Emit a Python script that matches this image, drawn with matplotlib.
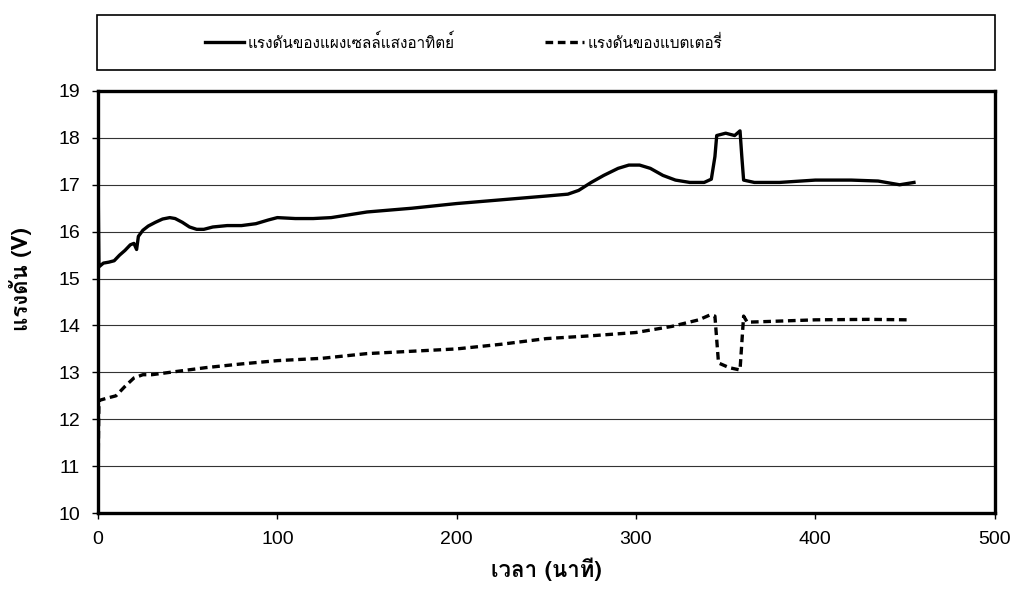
import matplotlib
matplotlib.use('Agg')
import matplotlib.pyplot as plt
from matplotlib import font_manager
from matplotlib.ft2font import FT2Font
from matplotlib.lines import Line2D
from matplotlib.patches import Rectangle


# solar panel voltage (V) vs time (min)
t_panel = [0, 0.5, 3, 6, 9, 12, 15, 18, 20, 21.5, 22.5, 25, 28, 32, 36, 40,
           43, 47, 51, 55, 59, 64, 72, 80, 88, 95, 100, 110, 120, 130, 140,
           150, 175, 200, 225, 250, 262, 268, 275, 282, 290, 296, 302, 308,
           315, 322, 330, 338, 342, 344, 345, 350, 355, 358, 359, 360, 366,
           380, 400, 420, 435, 447, 455]
v_panel = [17.2, 15.25, 15.33, 15.35, 15.38, 15.5, 15.6, 15.72, 15.75, 15.62,
           15.9, 16.03, 16.12, 16.2, 16.27, 16.3, 16.28, 16.2, 16.1, 16.05,
           16.05, 16.1, 16.13, 16.13, 16.17, 16.25, 16.3, 16.28, 16.28, 16.3,
           16.36, 16.42, 16.5, 16.6, 16.68, 16.76, 16.8, 16.88, 17.05, 17.2,
           17.35, 17.42, 17.42, 17.35, 17.2, 17.1, 17.05, 17.05, 17.12, 17.6,
           18.05, 18.1, 18.05, 18.15, 17.6, 17.1, 17.05, 17.05, 17.1, 17.1,
           17.08, 17.0, 17.05]

# battery voltage (V) vs time (min)
t_batt = [0, 0.5, 5, 10, 15, 20, 25, 30, 40, 60, 80, 100, 125, 150, 175,
          200, 225, 250, 275, 300, 320, 335, 341, 344, 346, 352, 358, 360,
          362, 370, 400, 430, 452]
v_batt = [10.8, 12.4, 12.45, 12.5, 12.7, 12.88, 12.95, 12.95, 13.0, 13.1,
          13.18, 13.25, 13.3, 13.4, 13.45, 13.5, 13.6, 13.72, 13.78, 13.85,
          13.98, 14.12, 14.22, 14.2, 13.2, 13.1, 13.05, 14.2, 14.07, 14.08,
          14.12, 14.13, 14.12]

x_ticks = [0, 100, 200, 300, 400, 500]
y_ticks = list(range(10, 20))

label_panel = 'แรงดันของแผงเซลล์แสงอาทิตย์'
label_batt = 'แรงดันของแบตเตอรี่'
x_label = 'เวลา (นาที)'
y_label = 'แรงดัน (V)'


def thai_font():
    for f in font_manager.fontManager.ttflist:
        try:
            if 0x0E01 in FT2Font(f.fname).get_charmap():
                return f.name
        except Exception:
            pass
    return 'DejaVu Sans'


TH = thai_font()
plt.rcParams['font.family'] = ['Liberation Sans', TH, 'DejaVu Sans']

fig = plt.figure(figsize=(10.16, 6.05), dpi=100)
ax = fig.add_axes([0.0965, 0.152, 0.8825, 0.6976])

ax.plot(t_panel, v_panel, color='black', lw=2.4, solid_joinstyle='round')
ln, = ax.plot(t_batt, v_batt, color='black', lw=2.4)
ln.set_dashes([2.3, 1.4])

ax.set_xlim(0, 500)
ax.set_ylim(10, 19)
ax.set_xticks(x_ticks)
ax.set_yticks(y_ticks)
ax.tick_params(labelsize=14, length=4, width=1, pad=9)
ax.grid(axis='y', color='#333333', lw=0.8)
ax.set_axisbelow(True)
for s in ax.spines.values():
    s.set_linewidth(2.4)
    s.set_color('black')

ax.set_xlabel(x_label, fontsize=16, fontweight='bold', labelpad=7,
              family=[TH, 'Liberation Sans'])
ax.set_ylabel(y_label, fontsize=16, fontweight='bold',
              family=[TH, 'Liberation Sans'])
ax.yaxis.set_label_coords(-0.074, 0.555)

# legend box across the top
fig.patches.append(Rectangle((97 / 1016, 1 - 70 / 605), 898 / 1016, 55 / 605,
                             transform=fig.transFigure, fill=False,
                             ec='black', lw=1.2))
h1 = Line2D([], [], color='black', lw=2.4)
h2 = Line2D([], [], color='black', lw=2.4, dashes=[2.3, 1.4])
fig.legend([h1, h2], [label_panel, label_batt], ncol=2, frameon=False,
           loc='center left', bbox_to_anchor=(191 / 1016, 1 - 42 / 605),
           prop={'family': [TH, 'Liberation Sans'], 'size': 11},
           handlelength=2.6, handletextpad=0.2, columnspacing=5.9)

fig.savefig('out.png', dpi=100)
